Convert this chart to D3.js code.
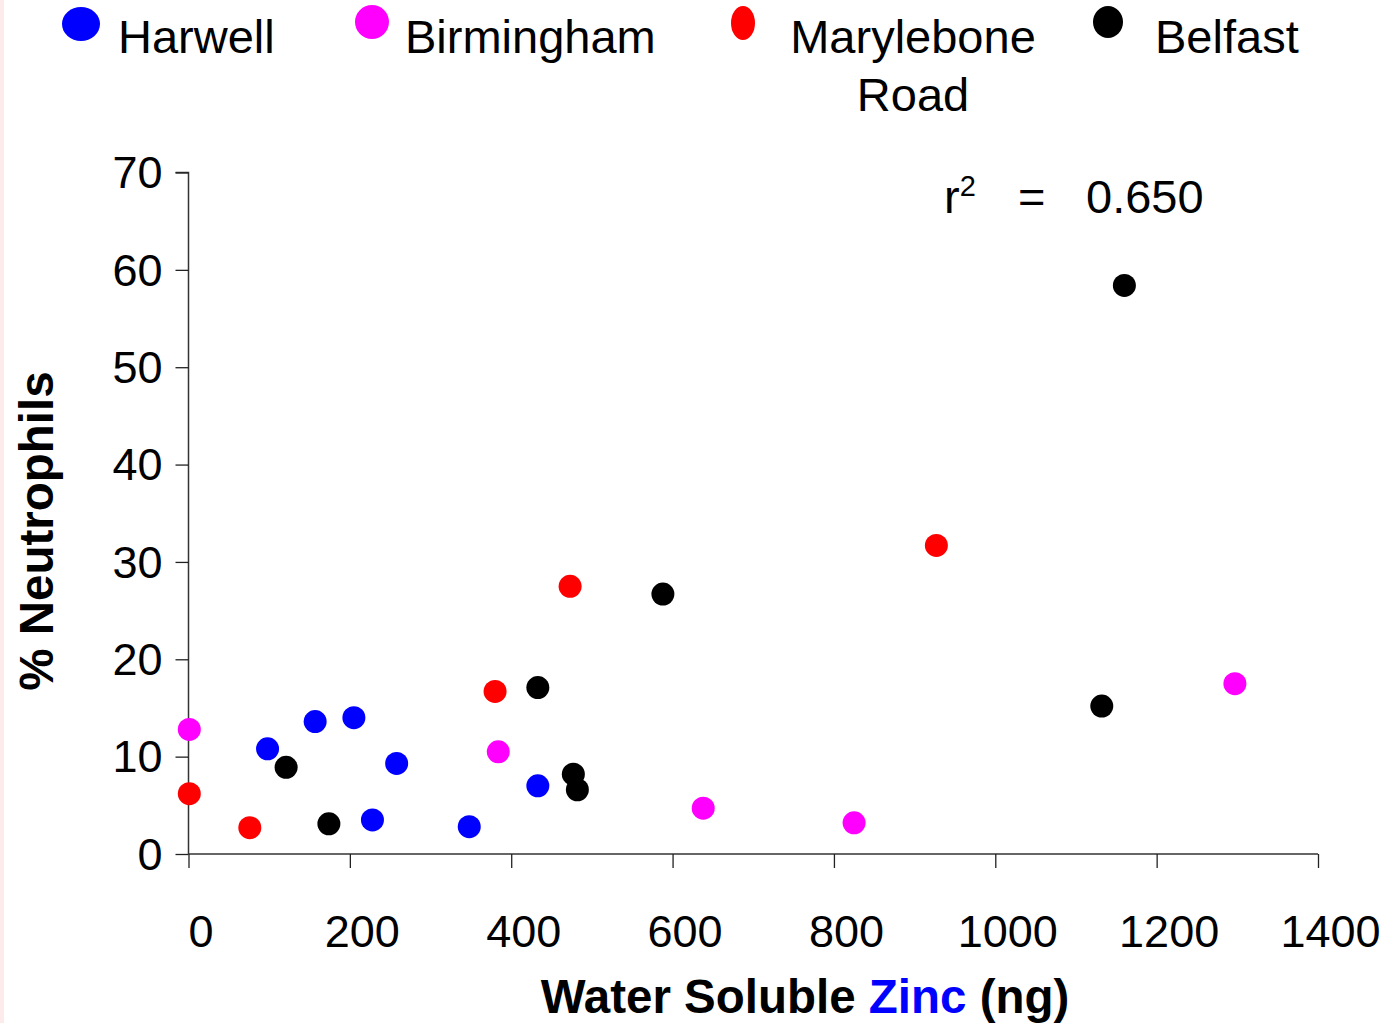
<!DOCTYPE html>
<html><head><meta charset="utf-8">
<script src="https://cdn.jsdelivr.net/npm/d3@7"></script>
<style>
html,body{margin:0;padding:0;background:#fff;}
svg{display:block;font-family:"Liberation Sans",Arial,sans-serif;}
</style></head>
<body>
<svg id="c" width="1388" height="1023"></svg>
<script>
// ---- data ----
const seriesNames = ["Harwell", "Birmingham", "Marylebone Road", "Belfast"];
const seriesColors = ["#0000ff", "#ff00ff", "#ff0000", "#000000"];
const harwellX = [98, 157, 205, 258, 228, 348, 433];
const harwellY = [10.8, 13.6, 14.0, 9.3, 3.5, 2.8, 7.0];
const birminghamX = [1, 384, 638, 825, 1297];
const birminghamY = [12.8, 10.5, 4.7, 3.2, 17.5];
const maryleboneX = [1, 76, 380, 473, 927];
const maryleboneY = [6.2, 2.7, 16.7, 27.5, 31.7];
const belfastX = [121, 174, 433, 477, 482, 588, 1132, 1160];
const belfastY = [8.9, 3.1, 17.1, 8.2, 6.6, 26.7, 15.2, 58.4];
const xTicks = [0, 200, 400, 600, 800, 1000, 1200, 1400];
const yTicks = [0, 10, 20, 30, 40, 50, 60, 70];
const rSquared = "0.650";

const seriesX = [harwellX, birminghamX, maryleboneX, belfastX];
const seriesY = [harwellY, birminghamY, maryleboneY, belfastY];

// ---- chart ----
const svg = d3.select("#c");
svg.append("rect").attr("x",0).attr("y",0).attr("width",4).attr("height",1023).attr("fill","#fdeaea");

const x = d3.scaleLinear().domain([0,1400]).range([188.5,1318]);
const y = d3.scaleLinear().domain([0,70]).range([854,172.5]);

// y axis
const yAxis = d3.axisLeft(y).tickValues(yTicks).tickSize(13).tickPadding(13).tickFormat(d3.format("d"));
const gy = svg.append("g").attr("transform",`translate(${x(0)},0)`).call(yAxis);
gy.select(".domain").attr("stroke","#333").attr("stroke-width",1.5).attr("d",`M-13,${y(70)}H0V${y(0)}`);
gy.selectAll(".tick line").attr("stroke","#222").attr("stroke-width",1.3);
gy.selectAll(".tick text").attr("font-size",45).attr("fill","#000").attr("font-family","Liberation Sans, Arial, sans-serif").attr("dy","0.34em");

// x axis
const xAxis = d3.axisBottom(x).tickValues(xTicks).tickSize(14).tickPadding(0).tickFormat(d3.format("d"));
const gx = svg.append("g").attr("transform",`translate(0,${y(0)})`).call(xAxis);
gx.select(".domain").attr("stroke","#333").attr("stroke-width",1.5).attr("d",`M${x(0)},0H${x(1400)}`);
gx.selectAll(".tick line").attr("stroke","#222").attr("stroke-width",1.3);
gx.selectAll(".tick text").attr("font-size",45).attr("fill","#000").attr("font-family","Liberation Sans, Arial, sans-serif")
  .attr("x",12).attr("y",93).attr("dy",0);

// axis titles
const xt = svg.append("text").attr("x",805).attr("y",1013).attr("text-anchor","middle")
  .attr("font-size",47.5).attr("font-weight","bold").attr("fill","#000");
xt.append("tspan").text("Water Soluble ");
xt.append("tspan").attr("fill","#0000ff").text("Zinc");
xt.append("tspan").text(" (ng)");

svg.append("text").attr("transform","translate(53,531) rotate(-90)").attr("text-anchor","middle")
  .attr("font-size",47.5).attr("font-weight","bold").attr("fill","#000").text("% Neutrophils");

// r squared
const rt = svg.append("text").attr("x",944).attr("y",213).attr("font-size",47).attr("fill","#000");
rt.append("tspan").text("r");
rt.append("tspan").attr("font-size",29).attr("dy",-17).text("2");
rt.append("tspan").attr("x",1018).attr("dy",17).text("=");
rt.append("tspan").attr("x",1086).text(rSquared);

// points
seriesNames.forEach((name,i)=>{
  const pts = seriesX[i].map((v,j)=>({x:v,y:seriesY[i][j]}));
  svg.append("g").selectAll("circle").data(pts).join("circle")
    .attr("cx",d=>x(d.x)).attr("cy",d=>y(d.y)).attr("r",11.5).attr("fill",seriesColors[i]);
});

// legend
const legendMarker = [{cx:81,cy:24,rx:19,ry:17},{cx:372,cy:22,rx:17,ry:17},{cx:743,cy:23,rx:12,ry:17},{cx:1108,cy:22,rx:15,ry:16}];
const legendText = [{x:118,anchor:"start"},{x:405,anchor:"start"},{x:913,anchor:"middle"},{x:1155,anchor:"start"}];
seriesNames.forEach((name,i)=>{
  const m = legendMarker[i];
  svg.append("ellipse").attr("cx",m.cx).attr("cy",m.cy).attr("rx",m.rx).attr("ry",m.ry).attr("fill",seriesColors[i]);
  const t = svg.append("text").attr("x",legendText[i].x).attr("y",53).attr("font-size",47)
    .attr("text-anchor",legendText[i].anchor).attr("fill","#000");
  const words = name === "Marylebone Road" ? ["Marylebone","Road"] : [name];
  words.forEach((w,k)=>t.append("tspan").attr("x",legendText[i].x).attr("dy",k?58:0).text(w));
});
</script>
</body></html>
